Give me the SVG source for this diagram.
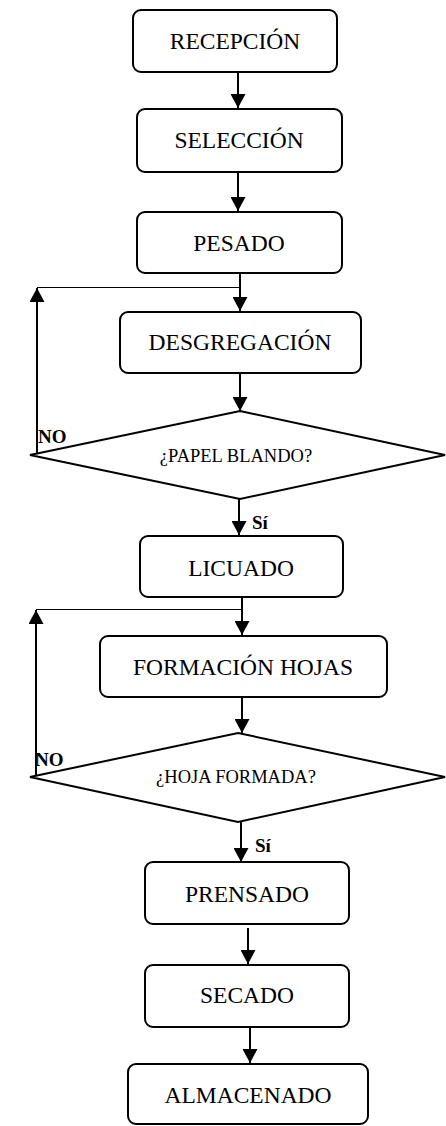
<svg xmlns="http://www.w3.org/2000/svg" width="446" height="1126" viewBox="0 0 446 1126">
<style>
.box{fill:#fff;stroke:#000;stroke-width:2}
.dia{fill:#fff;stroke:#000;stroke-width:2}
.t{font-family:"Liberation Serif","Times New Roman",serif;font-size:23.5px;text-anchor:middle;fill:#000}
.td{font-family:"Liberation Serif","Times New Roman",serif;font-size:18.5px;text-anchor:middle;fill:#000}
.lb{font-family:"Liberation Serif","Times New Roman",serif;font-size:19px;font-weight:bold;fill:#000}
.c{stroke:#000;stroke-width:2;fill:none}
.thin{stroke:#000;stroke-width:1;fill:none}
</style>
<defs>
<marker id="ah" markerUnits="userSpaceOnUse" markerWidth="14" markerHeight="15" refX="14" refY="7.5" orient="auto" viewBox="0 0 14 15">
<path d="M0,0 L14,7.5 L0,15 z" fill="#000"/>
</marker>
</defs>
<g id="connectors">
<line class="c" x1="238" y1="72" x2="238" y2="108" marker-end="url(#ah)"/>
<line class="c" x1="238" y1="172" x2="238" y2="211" marker-end="url(#ah)"/>
<line class="c" x1="240" y1="273" x2="240" y2="311" marker-end="url(#ah)"/>
<line class="thin" x1="37" y1="287.5" x2="240" y2="287.5"/>
<line class="c" x1="37" y1="455" x2="37" y2="288" marker-end="url(#ah)"/>
<line class="c" x1="240" y1="373" x2="240" y2="411" marker-end="url(#ah)"/>
<line class="c" x1="239" y1="499" x2="239" y2="535" marker-end="url(#ah)"/>
<line class="c" x1="242" y1="597" x2="242" y2="635" marker-end="url(#ah)"/>
<line class="thin" x1="36" y1="609.5" x2="242" y2="609.5"/>
<line class="c" x1="36" y1="777" x2="36" y2="610" marker-end="url(#ah)"/>
<line class="c" x1="242" y1="697" x2="242" y2="733" marker-end="url(#ah)"/>
<line class="c" x1="241" y1="822" x2="241" y2="862" marker-end="url(#ah)"/>
<line class="c" x1="248" y1="928" x2="248" y2="964" marker-end="url(#ah)"/>
<line class="c" x1="250" y1="1027" x2="250" y2="1063" marker-end="url(#ah)"/>
<text class="lb" x="38" y="443">NO</text>
<text class="lb" x="252" y="529">Sí</text>
<text class="lb" x="35" y="766">NO</text>
<text class="lb" x="255" y="852">Sí</text>
</g>
<g id="recepcion"><rect class="box" x="133" y="10" width="204" height="62" rx="8"/><text class="t" x="235" y="49">RECEPCIÓN</text></g>
<g id="seleccion"><rect class="box" x="137" y="109" width="205" height="63" rx="8"/><text class="t" x="239" y="148">SELECCIÓN</text></g>
<g id="pesado"><rect class="box" x="137" y="212" width="205" height="61" rx="8"/><text class="t" x="239" y="251">PESADO</text></g>
<g id="desgregacion"><rect class="box" x="120" y="312" width="241" height="61" rx="8"/><text class="t" x="240" y="350">DESGREGACIÓN</text></g>
<g id="papel-blando"><polygon class="dia" points="240,411 445,455 240,499 30,455"/><text class="td" x="236" y="462">¿PAPEL BLANDO?</text></g>
<g id="licuado"><rect class="box" x="140" y="536" width="203" height="61" rx="8"/><text class="t" x="241" y="576">LICUADO</text></g>
<g id="formacion-hojas"><rect class="box" x="100" y="636" width="287" height="61" rx="8"/><text class="t" x="243" y="675">FORMACIÓN HOJAS</text></g>
<g id="hoja-formada"><polygon class="dia" points="238,733 445,777 238,822 30,777"/><text class="td" x="236" y="783">¿HOJA FORMADA?</text></g>
<g id="prensado"><rect class="box" x="145" y="862" width="204" height="62" rx="8"/><text class="t" x="247" y="902">PRENSADO</text></g>
<g id="secado"><rect class="box" x="145" y="965" width="204" height="62" rx="8"/><text class="t" x="247" y="1003">SECADO</text></g>
<g id="almacenado"><rect class="box" x="128" y="1064" width="240" height="60" rx="8"/><text class="t" x="248" y="1103">ALMACENADO</text></g>
</svg>
